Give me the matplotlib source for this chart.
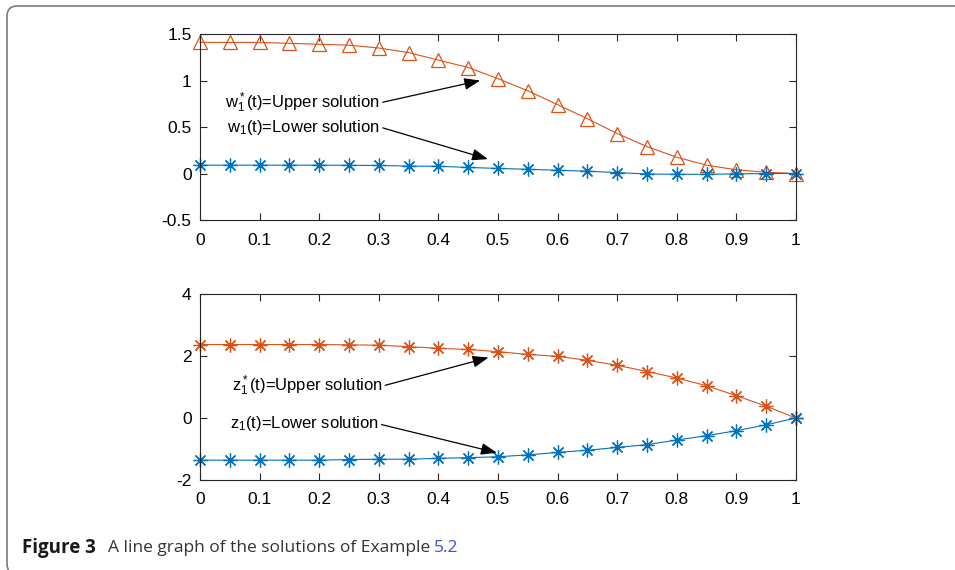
import matplotlib.pyplot as plt
from matplotlib.patches import FancyBboxPatch
from matplotlib.transforms import IdentityTransform

plt.rcParams['font.family'] = ['Liberation Sans', 'DejaVu Sans']
plt.rcParams['axes.unicode_minus'] = False
plt.rcParams['mathtext.fontset'] = 'custom'
plt.rcParams['mathtext.rm'] = 'Liberation Sans'
plt.rcParams['mathtext.it'] = 'Liberation Sans'

# t grid
t = [0, 0.05, 0.1, 0.15, 0.2, 0.25, 0.3, 0.35, 0.4, 0.45, 0.5,
     0.55, 0.6, 0.65, 0.7, 0.75, 0.8, 0.85, 0.9, 0.95, 1.0]

# top panel: w*_1 (upper) and w_1 (lower)
w_upper = [1.41, 1.41, 1.41, 1.40, 1.39, 1.38, 1.35, 1.30, 1.22, 1.14, 1.02,
           0.89, 0.74, 0.59, 0.43, 0.29, 0.175, 0.09, 0.04, 0.014, 0.0]
w_lower = [0.09, 0.09, 0.09, 0.09, 0.09, 0.088, 0.087, 0.08, 0.078, 0.065, 0.055,
           0.045, 0.035, 0.025, 0.01, -0.005, -0.008, -0.008, -0.004, 0.0, 0.0]

# bottom panel: z*_1 (upper) and z_1 (lower)
z_upper = [2.37, 2.37, 2.37, 2.37, 2.37, 2.36, 2.35, 2.30, 2.25, 2.21, 2.14,
           2.05, 1.99, 1.86, 1.70, 1.50, 1.29, 1.04, 0.72, 0.38, 0.0]
z_lower = [-1.36, -1.36, -1.36, -1.36, -1.36, -1.34, -1.33, -1.33, -1.30, -1.28, -1.25,
           -1.19, -1.11, -1.04, -0.95, -0.86, -0.71, -0.57, -0.41, -0.22, 0.0]

x_ticks = [0, 0.1, 0.2, 0.3, 0.4, 0.5, 0.6, 0.7, 0.8, 0.9, 1]
x_labels = ['0', '0.1', '0.2', '0.3', '0.4', '0.5', '0.6', '0.7', '0.8', '0.9', '1']
top_yticks = [-0.5, 0, 0.5, 1, 1.5]
top_ylabels = ['-0.5', '0', '0.5', '1', '1.5']
bot_yticks = [-2, 0, 2, 4]
bot_ylabels = ['-2', '0', '2', '4']

blue = '#0072BD'
orange = '#D95319'
asterisk = (8, 2, 0)

fig = plt.figure(figsize=(9.55, 5.7), dpi=100)

# rounded frame of the figure box
frame = FancyBboxPatch((7, -4), 1000, 568, boxstyle='round,pad=0,rounding_size=10',
                       transform=IdentityTransform(), fill=False,
                       edgecolor='#7a7a7a', linewidth=1.2)
fig.patches.append(frame)

ax1 = fig.add_axes([0.2094, 0.6140, 0.6241, 0.3263])
ax2 = fig.add_axes([0.2094, 0.1579, 0.6241, 0.3263])

ax1.plot(t, w_upper, color=orange, lw=0.8, marker='^', markersize=10,
         markerfacecolor='none', markeredgewidth=0.9, clip_on=False)
ax1.plot(t, w_lower, color=blue, lw=0.8, marker=asterisk, markersize=10,
         markeredgewidth=0.9, clip_on=False)
ax2.plot(t, z_upper, color=orange, lw=0.8, marker=asterisk, markersize=10,
         markeredgewidth=0.9, clip_on=False)
ax2.plot(t, z_lower, color=blue, lw=0.8, marker=asterisk, markersize=10,
         markeredgewidth=0.9, clip_on=False)

for ax, yt, yl, lim in [(ax1, top_yticks, top_ylabels, (-0.5, 1.5)),
                        (ax2, bot_yticks, bot_ylabels, (-2, 4))]:
    ax.set_xlim(0, 1)
    ax.set_ylim(*lim)
    ax.set_xticks(x_ticks)
    ax.set_xticklabels(x_labels)
    ax.set_yticks(yt)
    ax.set_yticklabels(yl)
    ax.tick_params(direction='in', length=5, width=0.8, labelsize=12.5,
                   top=True, right=True, colors='#262626', labelcolor='black')
    ax.tick_params(axis='x', pad=9)
    ax.tick_params(axis='y', pad=6)
    for s in ax.spines.values():
        s.set_linewidth(0.8)
        s.set_color('#262626')

arrow = dict(arrowstyle='-|>,head_length=0.8,head_width=0.3', color='black',
             lw=0.9, shrinkA=0, shrinkB=0, relpos=(1, 0.5))

ax1.annotate(r'$\mathregular{w^*_1}$(t)=Upper solution', xy=(0.470, 1.0),
             xytext=(0.302, 0.76), ha='right', va='center', fontsize=12,
             arrowprops=arrow)
ax1.annotate(r'$\mathregular{w_1}$(t)=Lower solution', xy=(0.483, 0.155),
             xytext=(0.302, 0.50), ha='right', va='center', fontsize=12,
             arrowprops=arrow)
ax2.annotate(r'$\mathregular{z^*_1}$(t)=Upper solution', xy=(0.484, 1.95),
             xytext=(0.306, 1.03), ha='right', va='center', fontsize=12,
             arrowprops=arrow)
ax2.annotate(r'$\mathregular{z_1}$(t)=Lower solution', xy=(0.498, -1.12),
             xytext=(0.300, -0.19), ha='right', va='center', fontsize=12,
             arrowprops=arrow)

# caption
cap_y = 1 - 548 / 570
fig.text(22 / 955, cap_y, 'Figure 3', fontsize=13.5, fontweight='bold',
         family=['Open Sans', 'DejaVu Sans'], va='center', color='#1a1a1a')
fig.text(108 / 955, cap_y, 'A line graph of the solutions of Example', fontsize=12.5,
         family=['Open Sans', 'DejaVu Sans'], va='center', color='#333333')
fig.text(434 / 955, cap_y, '5.2', fontsize=12.5,
         family=['Open Sans', 'DejaVu Sans'], va='center', color='#3b4fe0')

fig.savefig('out.png', dpi=100)
